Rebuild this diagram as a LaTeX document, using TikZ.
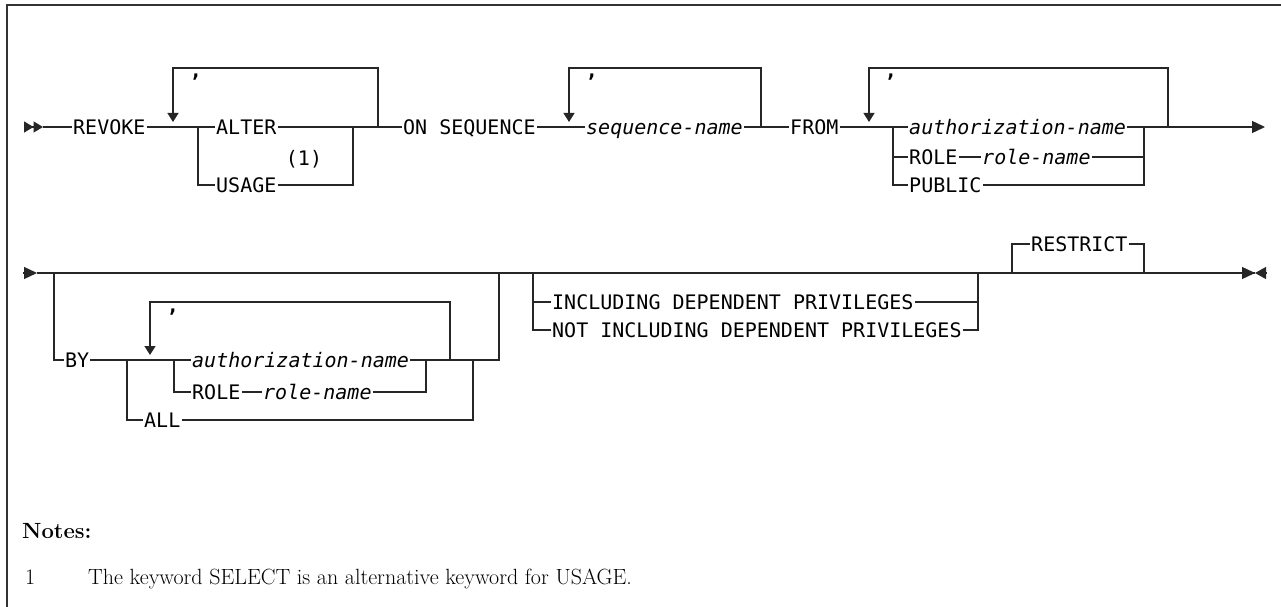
\documentclass[tikz,border=0pt]{standalone}
\usepackage{fontspec}
\setmonofont{DejaVu Sans Mono}
\usetikzlibrary{arrows.meta}
\newcommand{\synfont}{\ttfamily\fontsize{20}{24}\selectfont}
\newcommand{\notefont}{\rmfamily\fontsize{22}{26}\selectfont}

\begin{document}
\begin{tikzpicture}[
    x=1pt, y=-1pt,
    kw/.style={anchor=west, font=\synfont, inner xsep=1pt, inner ysep=0pt,
               text height=14.6pt, text depth=0pt},
    var/.style={kw, font=\synfont\itshape},
    sepch/.style={anchor=base, font=\synfont\bfseries, inner sep=0pt},
    ln/.style={line width=1.3pt, draw=black!85},
    tip/.style={ln, -{Triangle[length=13pt, width=12pt]}},
    loopar/.style={ln, -{Triangle[length=9pt, width=11pt]}},
    note/.style={anchor=base west, font=\notefont, inner sep=0pt},
]
\useasboundingbox (0,0) rectangle (1281,607);
\draw[line width=1.8pt, black!80] (7,607) -- (7,5) -- (1281,5);

% First line: REVOKE ... ON SEQUENCE ... FROM ...
\coordinate (s1l) at (24,127);  \coordinate (s1) at (43,127);
\node[kw] (revoke)  at (72,127)  {REVOKE};
\node[kw] (alter)   at (215,127) {ALTER};
\node[kw] (usage)   at (215,185) {USAGE};
\node[sepch, font=\synfont] (fn1) at (304,165) {(1)};
\node[kw] (onseq)   at (402,127) {ON SEQUENCE};
\node[var] (seqnm)  at (585,127) {sequence-name};
\node[kw] (from)    at (789,127) {FROM};
\node[var] (auth1)  at (908,127) {authorization-name};
\node[kw] (role1)   at (908,157) {ROLE};
\node[var] (rname1) at (981,157) {role-name};
\node[kw] (public)  at (908,185) {PUBLIC};
\coordinate (l1a) at (173,127); \coordinate (c1a) at (198,127);
\coordinate (c1b) at (353,127); \coordinate (l1b) at (378,127);
\coordinate (l2a) at (569,127); \coordinate (l2b) at (761,127);
\coordinate (l3a) at (869,127); \coordinate (c3a) at (893,127);
\coordinate (c3b) at (1144,127); \coordinate (l3b) at (1168,127);
\coordinate (e1) at (1265,127);
\coordinate (l1t) at (173,122); \coordinate (l2t) at (569,122);
\coordinate (l3t) at (869,122);

\draw[ln, -{Triangle[length=9.5pt, width=11pt] Triangle[length=9.5pt, width=11pt]}] (s1l) -- (s1);
\draw[ln] (s1) -- (revoke);
\draw[ln] (revoke) -- (alter);
\draw[ln] (c1a) |- (usage);
\draw[ln] (usage) -| (c1b);
\draw[ln] (alter) -- (onseq);
\draw[loopar] (l1b) -- ++(0,-59) -| (l1t);
\node[sepch] at (196,78) {,};
\draw[ln] (onseq) -- (seqnm);
\draw[ln] (seqnm) -- (from);
\draw[loopar] (l2b) -- ++(0,-59) -| (l2t);
\node[sepch] at (592,78) {,};
\draw[ln] (from) -- (auth1);
\draw[ln] (c3a) |- (role1);
\draw[ln] (c3a) |- (public);
\draw[ln] (role1) -- (rname1);
\draw[ln] (rname1) -| (c3b);
\draw[ln] (public) -| (c3b);
\draw[tip] (auth1) -- (e1);
\draw[loopar] (l3b) -- ++(0,-59) -| (l3t);
\node[sepch] at (891,78) {,};

% Second line: BY ... INCLUDING ... RESTRICT
\coordinate (s2l) at (23,273);  \coordinate (s2) at (37,273);
\node[kw] (by)      at (64,360)  {BY};
\node[var] (auth2)  at (191,360) {authorization-name};
\node[kw] (role2)   at (191,392) {ROLE};
\node[var] (rname2) at (262,392) {role-name};
\node[kw] (all)     at (143,420) {ALL};
\node[kw] (incl)    at (551,302) {INCLUDING DEPENDENT PRIVILEGES};
\node[kw] (nincl)   at (551,330) {NOT INCLUDING DEPENDENT PRIVILEGES};
\node[kw] (restr)   at (1030,244) {RESTRICT};
\coordinate (o1a) at (54,273);  \coordinate (o1b) at (499,273);
\coordinate (o2a) at (533,273); \coordinate (o2b) at (978,273);
\coordinate (d1a) at (1012,273); \coordinate (d1b) at (1144,273);
\coordinate (e2) at (1255,273); \coordinate (e2r) at (1266,273);
\coordinate (a1a) at (127,360); \coordinate (l4a) at (150,360);
\coordinate (c4a) at (174,360); \coordinate (c4b) at (426,360);
\coordinate (l4b) at (450,360); \coordinate (a1b) at (473,360);
\coordinate (l4t) at (150,355);
\coordinate (dfa) at (1150,273); \coordinate (dfb) at (1173,273);

\draw[tip] (s2l) -- (s2);
\draw[ln] (s2) -- (e2);
\draw[tip] (d1b) -- (e2);
\draw[ln, -{Triangle[length=11pt, width=12pt]}] (e2r) -- (e2);
\draw[ln] (o1a) |- (by);
\draw[ln] (by) -- (auth2);
\draw[ln] (a1a) |- (all);
\draw[ln] (all) -| (a1b);
\draw[ln] (c4a) |- (role2);
\draw[ln] (role2) -- (rname2);
\draw[ln] (rname2) -| (c4b);
\draw[ln] (auth2) -| (o1b);
\draw[loopar] (l4b) -- ++(0,-58) -| (l4t);
\node[sepch] at (173,312) {,};
\draw[ln] (o2a) |- (nincl);
\draw[ln] (o2a |- incl) -- (incl);
\draw[ln] (incl) -- (o2b |- incl);
\draw[ln] (nincl) -| (o2b);
\draw[ln] (d1a) |- (restr);
\draw[ln] (restr) -| (d1b);
\draw[ln, line width=2.6pt] (dfa) -- (dfb);

% Notes
\node[note, font=\notefont\bfseries] (notes) at (22,538) {Notes:};
\node[note] (n1)  at (25,584) {1};
\node[note] (n1t) at (88,584) {The keyword SELECT is an alternative keyword for USAGE.};
\end{tikzpicture}
\end{document}
